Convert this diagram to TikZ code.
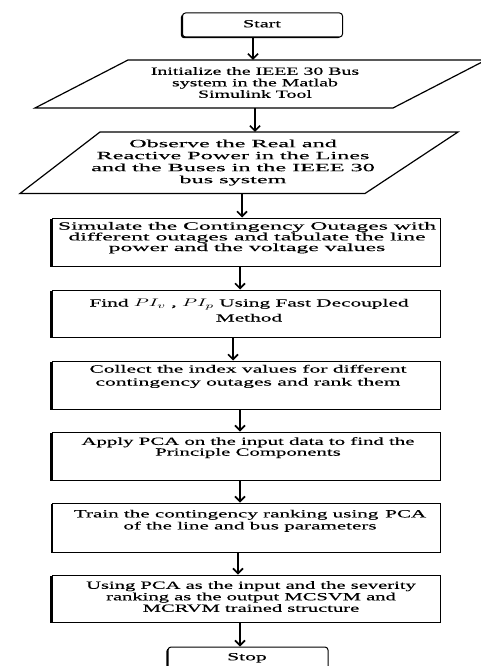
\documentclass[tikz,border=0pt]{standalone}
\usepackage{fontspec}
\setmainfont[FakeStretch=2.2,FakeBold=0.3]{Liberation Serif}
\usetikzlibrary{arrows.meta,shadows}
\newcommand\sqz[2]{\scalebox{#1}[1]{\begin{tabular}{@{}c@{}}#2\end{tabular}}}
\begin{document}
\begin{tikzpicture}[x=1pt,y=-1pt,
  box/.style={draw, line width=1pt, minimum width=388pt, minimum height=48pt, inner sep=0pt, fill=white,
    drop shadow={shadow xshift=-1.6pt, shadow yshift=-1.2pt, fill=black, opacity=1}},
  term/.style={box, rounded corners=3pt, minimum width=160pt, minimum height=24pt},
  txt/.style={align=center, font=\fontsize{11}{11.5}\selectfont, inner sep=0pt},
  para/.style={draw, line width=1.2pt, line join=miter},
  arr/.style={line width=2pt, -{Straight Barb[length=5pt,width=10pt,line width=1.6pt]}}
]
\useasboundingbox (0,0) rectangle (481,666);

% terminals
\node[term] (start) at (262.5,25) {};
\node[txt] (tstart) at (262,25) {\sqz{0.83}{Start}};
\node[term] (stop) at (248,659) {};
\node[txt] (tstop) at (247,658) {\sqz{0.89}{Stop}};

% parallelograms
\draw[para] (35,108) -- (128,60) -- (486,60) -- (393,108) -- cycle;
\node[txt, minimum height=48pt] (p1) at (255,84) {\sqz{0.82}{Initialize the IEEE 30 Bus\\system in the Matlab\\Simulink Tool}};
\draw[para] (20,193.5) -- (100,132) -- (458,132) -- (365,193.5) -- cycle;
\node[txt, minimum height=61.5pt, font=\fontsize{11}{12}\selectfont] (p2) at (233,162.75) {\sqz{1.0}{Observe the Real and\\Reactive Power in the Lines\\and the Buses in the IEEE 30\\bus system}};

% process boxes
\node[box] (b3) at (246,242) {};
\node[txt, font=\fontsize{11}{10}\selectfont] (t3) at (247,238) {\sqz{0.98}{Simulate the Contingency Outages with\\different outages and tabulate the line\\power and the voltage values}};
\node[box, minimum height=47pt] (b4) at (246,313.5) {};
\node[txt, font=\fontsize{11}{15}\selectfont] (t4) at (249,311) {\sqz{0.88}{Find \scalebox{2}[1]{$PI_{v}$} , \scalebox{2}[1]{$PI_{p}$} Using Fast Decoupled\\Method}};
\node[box] (b5) at (246,385) {};
\node[txt, font=\fontsize{11}{13}\selectfont] (t5) at (248,376.5) {\sqz{0.89}{Collect the index values for different\\contingency outages and rank them}};
\node[box] (b6) at (246,456) {};
\node[txt, font=\fontsize{11}{10.5}\selectfont] (t6) at (248,448) {\sqz{0.86}{Apply PCA on the input data to find the\\Principle Components}};
\node[box, minimum height=49pt] (b7) at (246.5,527.5) {};
\node[txt, font=\fontsize{11}{12}\selectfont] (t7) at (250,521) {\sqz{0.87}{Train the contingency ranking using \,PCA\\of the line and bus parameters}};
\node[box, minimum height=47pt] (b8) at (246,598.5) {};
\node[txt, font=\fontsize{11}{11.5}\selectfont] (t8) at (251,598) {\sqz{0.85}{Using PCA as the input and the severity\\ranking as the output MCSVM and\\MCRVM trained structure}};

% arrow x positions
\coordinate (ax1) at (253,0);
\coordinate (ax2) at (255,0);
\coordinate (ax3) at (242,0);
\coordinate (ax4) at (240,0);
\coordinate (ax5) at (233,0);
\coordinate (ax6) at (240,0);
\coordinate (ax7) at (240,0);
\coordinate (ax8) at (238,0);
\coordinate (ax9) at (240,0);

\draw[arr] (start.south -| ax1) -- (p1.north -| ax1);
\draw[arr] (p1.south -| ax2) -- (p2.north -| ax2);
\draw[arr] (p2.south -| ax3) -- (b3.north -| ax3);
\draw[arr] (b3.south -| ax4) -- (b4.north -| ax4);
\draw[arr] (b4.south -| ax5) -- (b5.north -| ax5);
\draw[arr] (b5.south -| ax6) -- (b6.north -| ax6);
\draw[arr] (b6.south -| ax7) -- (b7.north -| ax7);
\draw[arr] (b7.south -| ax8) -- (b8.north -| ax8);
\draw[arr] (b8.south -| ax9) -- (stop.north -| ax9);
\end{tikzpicture}
\end{document}
